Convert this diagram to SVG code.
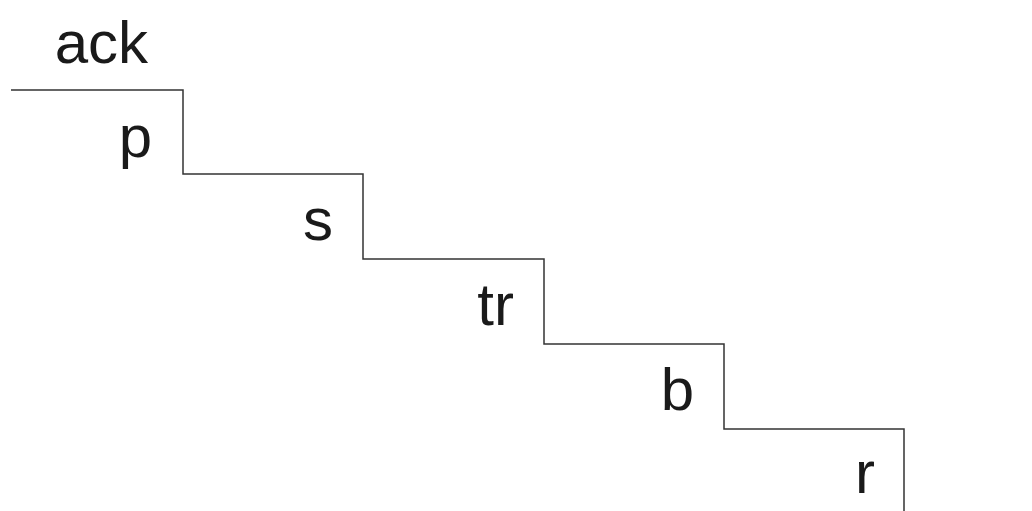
<svg xmlns="http://www.w3.org/2000/svg" width="1032" height="511" viewBox="0 0 1032 511">
<style>
.lbl{font-family:"Liberation Sans",Arial,sans-serif;font-size:60px;fill:#1a1a1a;text-anchor:end}
.ln{fill:none;stroke:#333;stroke-width:1.5}
</style>
<rect width="1032" height="511" fill="#fff"/>
<g id="connectors">
<path class="ln" d="M11,90 H183 V174 H363 V259 H544 V344 H724 V429 H904 V511"/>
</g>
<g id="ack"><text class="lbl" x="148" y="63">ack</text></g>
<g id="p"><text class="lbl" x="152" y="157">p</text></g>
<g id="s"><text class="lbl" x="333" y="240">s</text></g>
<g id="tr"><text class="lbl" x="514" y="325">tr</text></g>
<g id="b"><text class="lbl" x="694" y="410">b</text></g>
<g id="r"><text class="lbl" x="875" y="493">r</text></g>
</svg>
